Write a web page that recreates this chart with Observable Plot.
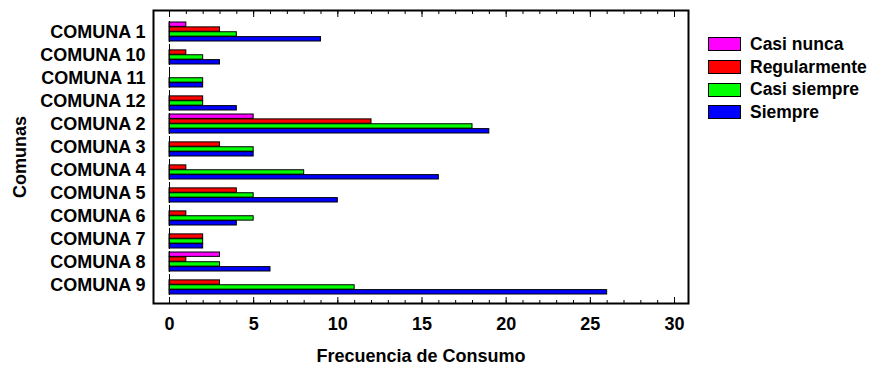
<!DOCTYPE html>
<html><head><meta charset="utf-8">
<script src="https://cdn.jsdelivr.net/npm/d3@7"></script>
<script src="https://cdn.jsdelivr.net/npm/@observablehq/plot@0.6"></script>
<style>
body{margin:0;background:#fff;font-family:"Liberation Sans",Arial,sans-serif;}
#wrap{position:relative;width:877px;height:370px;}
#legend{position:absolute;left:708px;top:33px;}
.item{display:flex;align-items:center;height:22.7px;font-weight:bold;font-size:17.5px;color:#000;}
.sw{width:31px;height:12px;border:1px solid #000;margin-right:9px;flex:none;}
</style></head><body><div id="wrap"></div>
<script>
const comunas = ["COMUNA 1","COMUNA 10","COMUNA 11","COMUNA 12","COMUNA 2","COMUNA 3","COMUNA 4","COMUNA 5","COMUNA 6","COMUNA 7","COMUNA 8","COMUNA 9"];
const series = ["Casi nunca","Regularmente","Casi siempre","Siempre"];
const colors = ["#ff00ff","#ff0000","#00ff00","#0000ff"];
const casiNunca    = [1,0,0,0,5,0,0,0,0,0,3,0];
const regularmente = [3,1,0,2,12,3,1,4,1,2,1,3];
const casiSiempre  = [4,2,2,2,18,5,8,5,5,2,3,11];
const siempre      = [9,3,2,4,19,5,16,10,4,2,6,26];
const xTicks = [0,5,10,15,20,25,30];
const xTitle = "Frecuencia de Consumo";
const yTitle = "Comunas";

const valuesBySeries = [casiNunca, regularmente, casiSiempre, siempre];
const rows = [];
series.forEach((s, i) => comunas.forEach((c, j) => rows.push({comuna: c, serie: s, value: valuesBySeries[i][j]})));

const band = 23.5, pad = 2, barH = (band - 2 * pad) / series.length;
const barMarks = series.map((s, i) => Plot.barX(rows.filter(r => r.serie === s && r.value > 0), {
  x: "value", y: "comuna", fill: colors[i], stroke: "black", strokeWidth: 1,
  insetTop: pad + i * barH, insetBottom: band - pad - (i + 1) * barH
}));

const font = {fontSize: 18, fontWeight: "bold"};
const chart = Plot.plot({
  width: 877, height: 370,
  marginLeft: 153, marginRight: 189, marginTop: 10, marginBottom: 67,
  style: {fontFamily: "'Liberation Sans', Arial, sans-serif", color: "#000", background: "#fff", overflow: "visible"},
  x: {domain: [0, 30], insetLeft: 16, insetRight: 14},
  y: {domain: comunas, padding: 0, insetTop: 7, insetBottom: 4},
  marks: [
    ...barMarks,
    Plot.tickX(comunas, {x: () => 0, y: d => d, stroke: "black", insetTop: 1, insetBottom: 1}),
    Plot.axisY({tickSize: 0, tickPadding: 8, ...font, label: yTitle, labelAnchor: "center", labelOffset: 140}),
    Plot.axisX({anchor: "bottom", ticks: xTicks, tickSize: -6, tickPadding: 20, ...font, label: xTitle, labelAnchor: "center", labelOffset: 58, labelArrow: "none"}),
    Plot.axisX({anchor: "bottom", ticks: 30, tickSize: -3, tickFormat: () => "", label: null}),
    Plot.axisX({anchor: "top", ticks: xTicks, tickSize: -6, tickFormat: () => "", label: null}),
    Plot.axisX({anchor: "top", ticks: 30, tickSize: -3, tickFormat: () => "", label: null}),
    Plot.frame({stroke: "black", strokeWidth: 2})
  ]
});
const wrap = document.getElementById("wrap");
wrap.appendChild(chart);
const legend = document.createElement("div");
legend.id = "legend";
series.forEach((s, i) => {
  const it = document.createElement("div"); it.className = "item";
  const sw = document.createElement("span"); sw.className = "sw"; sw.style.background = colors[i];
  it.appendChild(sw); it.appendChild(document.createTextNode(s));
  legend.appendChild(it);
});
wrap.appendChild(legend);
</script></body></html>
